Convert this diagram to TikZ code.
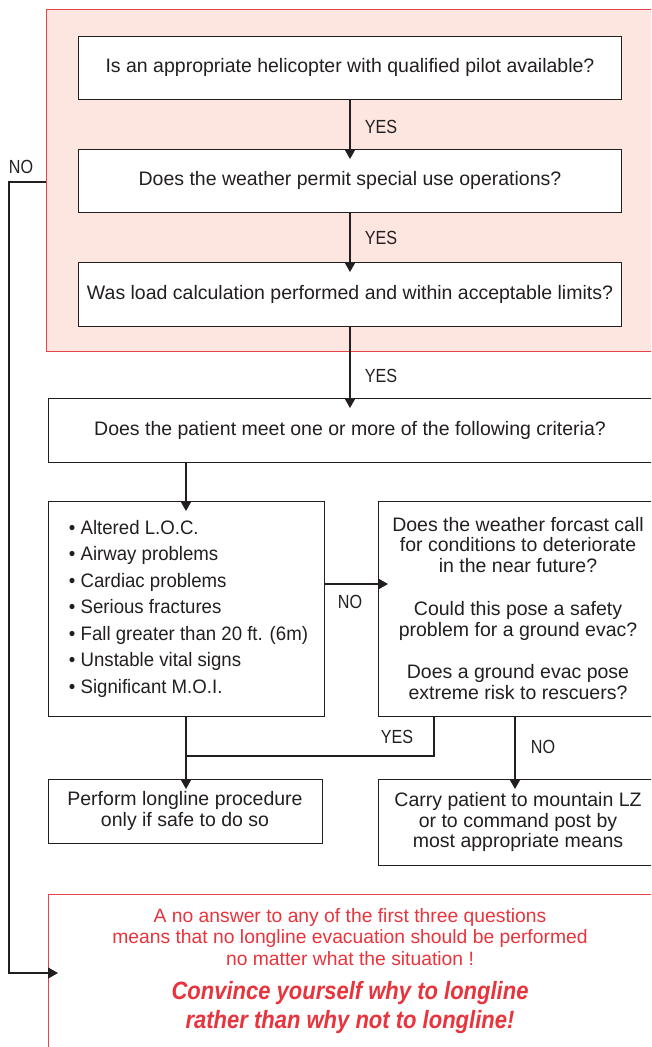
\documentclass[tikz,border=0pt]{standalone}
\usepackage{fontspec}
\setmainfont{Liberation Sans}
\newfontfamily\lblfont{Liberation Sans}[FakeStretch=0.85]
\newfontfamily\cvxfont{Liberation Sans}[FakeStretch=0.88]
\newfontfamily\listfont{Liberation Sans}[FakeStretch=0.955]
\usetikzlibrary{arrows.meta}
\definecolor{ink}{HTML}{231F20}
\definecolor{redline}{HTML}{E8424A}
\definecolor{pinkbg}{HTML}{FDE6E0}
\definecolor{redtext}{HTML}{E8343C}
\begin{document}
\begin{tikzpicture}[x=1pt,y=-1pt,
  every node/.style={text=ink, font=\fontsize{19.5}{20.5}\selectfont},
  box/.style={draw=ink, line width=0.9pt, fill=white, inner sep=0pt, outer sep=0pt, align=center},
  redbox/.style={draw=redline, line width=0.9pt, inner sep=0pt, outer sep=0pt},
  conn/.style={draw=ink, line width=1.1pt},
  arr/.style={conn, -{Triangle[length=10pt,width=11pt]}, shorten >=-10pt},
  lab/.style={font=\lblfont\fontsize{19}{20}\selectfont, inner sep=0pt}
]
\useasboundingbox (0,0) rectangle (651,1047);
\clip (0,0) rectangle (651,1047);

% pink panel with the three questions
\node[redbox, fill=pinkbg, minimum width=608pt, minimum height=342pt] (panel) at (350,180) {};
\node[box, minimum width=543pt, minimum height=63pt] (q1) at (350,67.5)
  {Is an appropriate helicopter with qualified pilot available?};
\node[box, minimum width=543pt, minimum height=63pt] (q2) at (350,180.5)
  {Does the weather permit special use operations?};
\node[box, minimum width=543pt, minimum height=64pt] (q3) at (350,294)
  {Was load calculation performed and within acceptable limits?};

\node[box, minimum width=604pt, minimum height=64pt] (crit) at (350,430)
  {Does the patient meet one or more of the following criteria?};

\node[box, minimum width=276pt, minimum height=215pt, align=left,
      font=\listfont\fontsize{19.5}{26.5}\selectfont] (list) at (186,608.5)
  {\hspace*{5pt}\textbullet\ Altered L.O.C.\\
   \hspace*{5pt}\textbullet\ Airway problems\\
   \hspace*{5pt}\textbullet\ Cardiac problems\\
   \hspace*{5pt}\textbullet\ Serious fractures\\
   \hspace*{5pt}\textbullet\ Fall greater than 20 ft. (6m)\\
   \hspace*{5pt}\textbullet\ Unstable vital signs\\
   \hspace*{5pt}\textbullet\ Significant M.O.I.};

\node[box, minimum width=280pt, minimum height=215pt] (weather) at (518,608.5)
  {Does the weather forcast call\\for conditions to deteriorate\\in the near future?\\[23pt]
   Could this pose a safety\\problem for a ground evac?\\[22pt]
   Does a ground evac pose\\extreme risk to rescuers?};

\node[box, minimum width=274pt, minimum height=64pt] (perform) at (185,811)
  {Perform longline procedure\\only if safe to do so};
\node[box, minimum width=280pt, minimum height=86pt] (carry) at (518,822)
  {Carry patient to mountain LZ\\or to command post by\\most appropriate means};

\node[redbox, fill=white, minimum width=604pt, minimum height=170pt] (note) at (350,979) {};
\node[text=redtext, align=center, inner sep=0pt, font=\fontsize{19.3}{21.5}\selectfont] (warn) at (350,937)
  {A no answer to any of the first three questions\\
   means that no longline evacuation should be performed\\
   no matter what the situation !};
\node[text=redtext, align=center, inner sep=0pt, font=\cvxfont\bfseries\itshape\fontsize{25}{29}\selectfont] (convince) at (350,1008)
  {Convince yourself why to longline\\rather than why not to longline!};

% connectors
\draw[arr] (q1.south) -- (q2.north);
\draw[arr] (q2.south) -- (q3.north);
\draw[arr] (q3.south) -- (crit.north);
\draw[arr] (panel.west |- 0,182) -- ++(-37,0) |- (note.west |- 0,973);
\draw[arr] (list.north |- crit.south) -- (list.north);
\draw[arr] (list.east |- 0,584) -- (weather.west |- 0,584);
\draw[conn] (weather.south -| 434,0) |- (list.south |- 0,756);
\draw[arr] (list.south) -- (list.south |- perform.north);
\draw[arr] (weather.south -| 515,0) -- (carry.north -| 515,0);

% labels
\node[lab] (yes1) at (381,127) {YES};
\node[lab] (yes2) at (381,238) {YES};
\node[lab] (yes3) at (381,376) {YES};
\node[lab] (no1) at (21,167) {NO};
\node[lab] (no2) at (350,602) {NO};
\node[lab] (yes4) at (397,737) {YES};
\node[lab] (no3) at (543,747) {NO};
\end{tikzpicture}
\end{document}
